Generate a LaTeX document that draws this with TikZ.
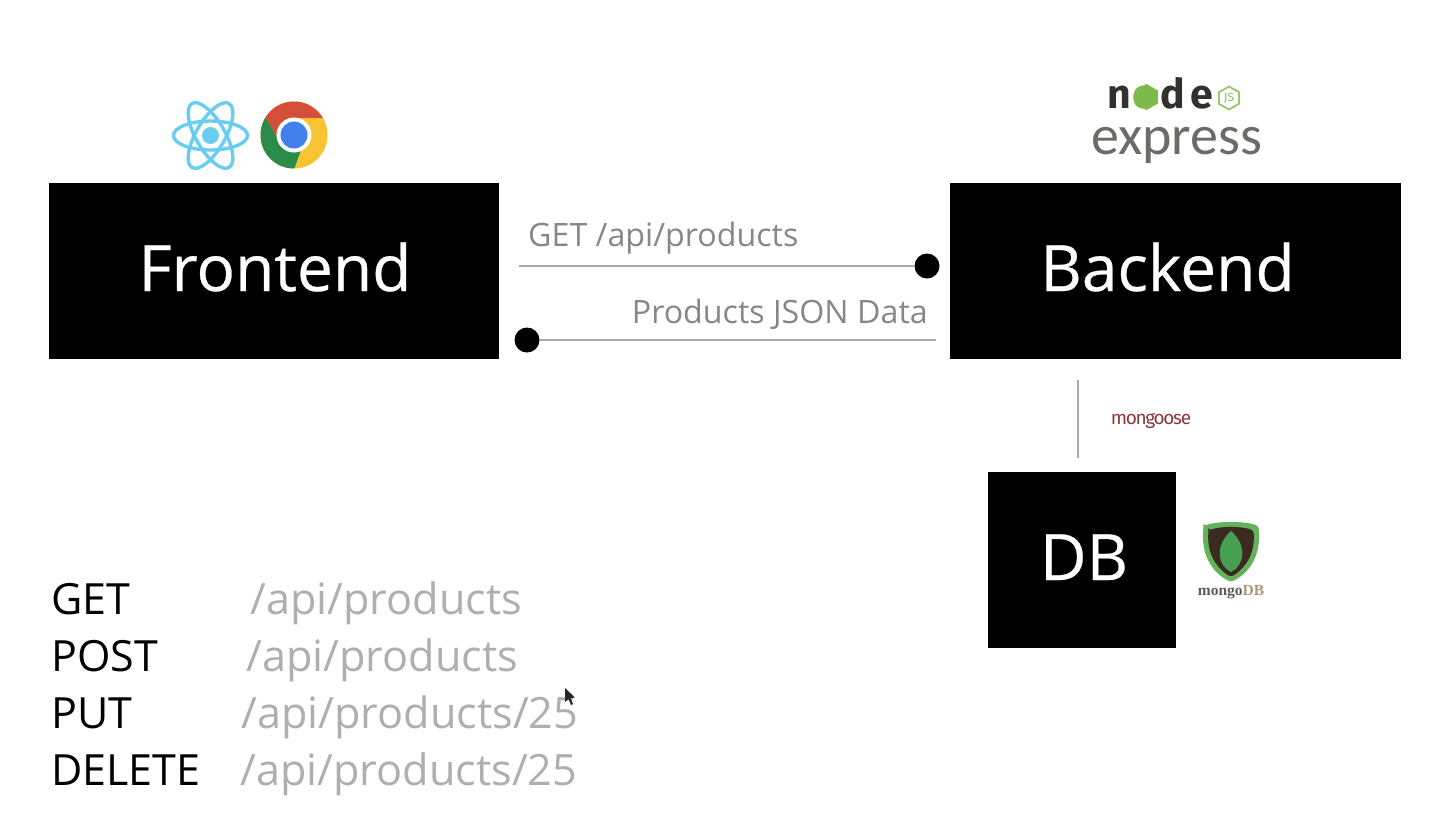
\documentclass[tikz,border=0pt]{standalone}
\usepackage{fontspec}
\setmainfont{Open Sans}
\newfontfamily\logofont{Fira Sans}
\newfontfamily\expressfont{Carlito}
\newfontfamily\mongofont{Liberation Serif}
\usetikzlibrary{positioning, calc}
\definecolor{reactblue}{RGB}{105, 205, 242}
\definecolor{chromered}{RGB}{213, 78, 58}
\definecolor{chromegreen}{RGB}{42, 140, 72}
\definecolor{chromeyellow}{RGB}{248, 196, 50}
\definecolor{chromeblue}{RGB}{66, 128, 236}
\definecolor{nodegreen}{RGB}{125, 185, 75}
\definecolor{nodedark}{RGB}{50, 50, 45}
\definecolor{leafgreen}{RGB}{70, 160, 80}
\definecolor{shieldgreen}{RGB}{100, 178, 90}
\definecolor{shieldbrown}{RGB}{58, 42, 32}
\definecolor{routegray}{RGB}{175, 175, 175}
\definecolor{labelgray}{RGB}{135, 135, 135}
\definecolor{linegray}{RGB}{170, 170, 170}
\definecolor{gooseRed}{RGB}{140, 55, 55}
\definecolor{dbtan}{RGB}{175, 150, 125}
\tikzset{
  blockbox/.style={draw=none, fill=black, text=white, inner sep=0pt, text height=46pt, text depth=6pt,
    font=\fontsize{64}{64}\selectfont\addfontfeature{FakeBold=0.4}},
  enddot/.style={circle, fill=black, inner sep=0pt, minimum size=25pt},
  wirelabel/.style={text=labelgray, inner sep=0pt, font=\fontsize{32.2}{36}\selectfont},
  verbtext/.style={anchor=base west, inner sep=0pt, font=\fontsize{43}{48}\selectfont},
  routetext/.style={verbtext, text=routegray, font=\fontsize{43.2}{48}\selectfont},
  wire/.style={linegray, line width=1.6pt},
}
\begin{document}
\begin{tikzpicture}[x=1pt, y=-1pt]
\useasboundingbox (0,0) rectangle (1438,815);
% blocks
\node[blockbox, minimum width=450pt, minimum height=176pt] (frontend) at (274,271) {\kern2pt Frontend};
\node[blockbox, minimum width=451pt, minimum height=176pt] (backend) at (1175.5,271) {\kern-16pt Backend};
\node[blockbox, minimum width=188pt, minimum height=176pt] (db) at (1082,560) {\kern4pt DB};
% wires
\node[enddot] (getdot) at (927,266) {};
\node[enddot] (datadot) at (527,340) {};
\coordinate (getstart) at (519,266);
\coordinate (dataend) at (936,340);
\coordinate (dbtop) at (1078,380);
\coordinate (dbbottom) at (1078,458);
\draw[wire] (getstart) -- (getdot);
\draw[wire] (datadot) -- (dataend);
\draw[wire] (dbtop) -- (dbbottom);
\node[wirelabel, anchor=base west] (getlabel) at (528,246) {GET /api/products};
\node[wirelabel, anchor=base east] (datalabel) at (928,323) {Products JSON Data};
% react
\begin{scope}[shift={(210.5,135.5)}]
\foreach \a in {0,60,120}
  \draw[reactblue, line width=3.4pt, rotate=\a] (0,0) ellipse (37pt and 14.5pt);
\fill[reactblue] (0,0) circle (8.5pt);
\end{scope}
% chrome
\begin{scope}[shift={(294,135)}]
\begin{scope}
\clip (0,0) circle (33.5pt);
\fill[chromeyellow] (-40,-40) rectangle (40,40);
\fill[chromered] (-17,2) -- (-38,-34) -- (-38,-40) -- (40,-40) -- (40,-17) -- (0,-17) -- cycle;
\fill[chromegreen] (-17,2) -- (-38,-34) -- (-40,40) -- (-2,40) -- (7,15) -- cycle;
\end{scope}
\fill[white] (0,0) circle (17.5pt);
\fill[chromeblue] (0,0) circle (13.5pt);
\end{scope}
% node logo
\node[inner sep=0pt, anchor=base west, text=nodedark, font=\logofont\bfseries\fontsize{41}{41}\selectfont] (nodelogo) at (1107,108) {n\kern2pt\textcolor{nodegreen}{o}\kern4pt d\kern5pt e};
\begin{scope}[shift={(1146.5,97)}]
\fill[nodegreen] (0,-13) -- (11.5,-6.5) -- (11.5,6.5) -- (0,13) -- (-11.5,6.5) -- (-11.5,-6.5) -- cycle;
\end{scope}
\begin{scope}[shift={(1229,98)}]
\draw[nodegreen!80!white, line width=1.8pt] (0,-11.5) -- (10,-5.8) -- (10,5.8) -- (0,11.5) -- (-10,5.8) -- (-10,-5.8) -- cycle;
\node[inner sep=0pt, text=nodegreen!90!white, font=\logofont\fontsize{12}{12}\selectfont] (jslabel) at (0,0) {JS};
\end{scope}
\node[inner sep=0pt, anchor=base west, text=nodedark!72!white, font=\expressfont\fontsize{56}{56}\selectfont] (expresslabel) at (1091,154) {express};
% mongoose and mongodb
\node[inner sep=0pt, text=gooseRed, font=\logofont\fontsize{19}{19}\selectfont\addfontfeature{LetterSpace=-7}] (mongooselabel) at (1151,421) {mongoose};
\begin{scope}[shift={(1231,552)}]
\fill[shieldgreen, rounded corners=3pt] (-27.5,-26) .. controls (-14,-31) and (14,-31) .. (27.5,-26) .. controls (30,2) and (20,20) .. (0,30) .. controls (-20,20) and (-30,2) .. (-27.5,-26) -- cycle;
\fill[shieldbrown, rounded corners=3pt] (-22.5,-21.5) .. controls (-10,-26) and (10,-26) .. (22.5,-21.5) .. controls (24,0) and (16,15) .. (0,25) .. controls (-16,15) and (-24,0) .. (-22.5,-21.5) -- cycle;
\fill[leafgreen] (0,-21) .. controls (-17,-6) and (-13,14) .. (0,20) .. controls (13,14) and (17,-6) .. (0,-21) -- cycle;
\end{scope}
\node[inner sep=0pt, font=\mongofont\bfseries\fontsize{15.5}{16}\selectfont, text=nodedark!80!white] (mongolabel) at (1231,592) {mongo\textcolor{dbtan}{DB}};
% routes
\node[verbtext] (getverb) at (51,614) {GET};
\node[verbtext] (postverb) at (51,671) {POST};
\node[verbtext] (putverb) at (51,728) {PUT};
\node[verbtext] (deleteverb) at (51,785) {DELETE};
\node[routetext] (getroute) at (250,614) {/api/products};
\node[routetext] (postroute) at (246,671) {/api/products};
\node[routetext] (putroute) at (241,728) {/api/products/25};
\node[routetext] (deleteroute) at (240,785) {/api/products/25};
% pointer
\fill[black!85!white] (565,688) -- (565,702) -- (568.5,699) -- (571,705) -- (573,704) -- (570.5,698) -- (575,697.5) -- cycle;
\end{tikzpicture}
\end{document}
